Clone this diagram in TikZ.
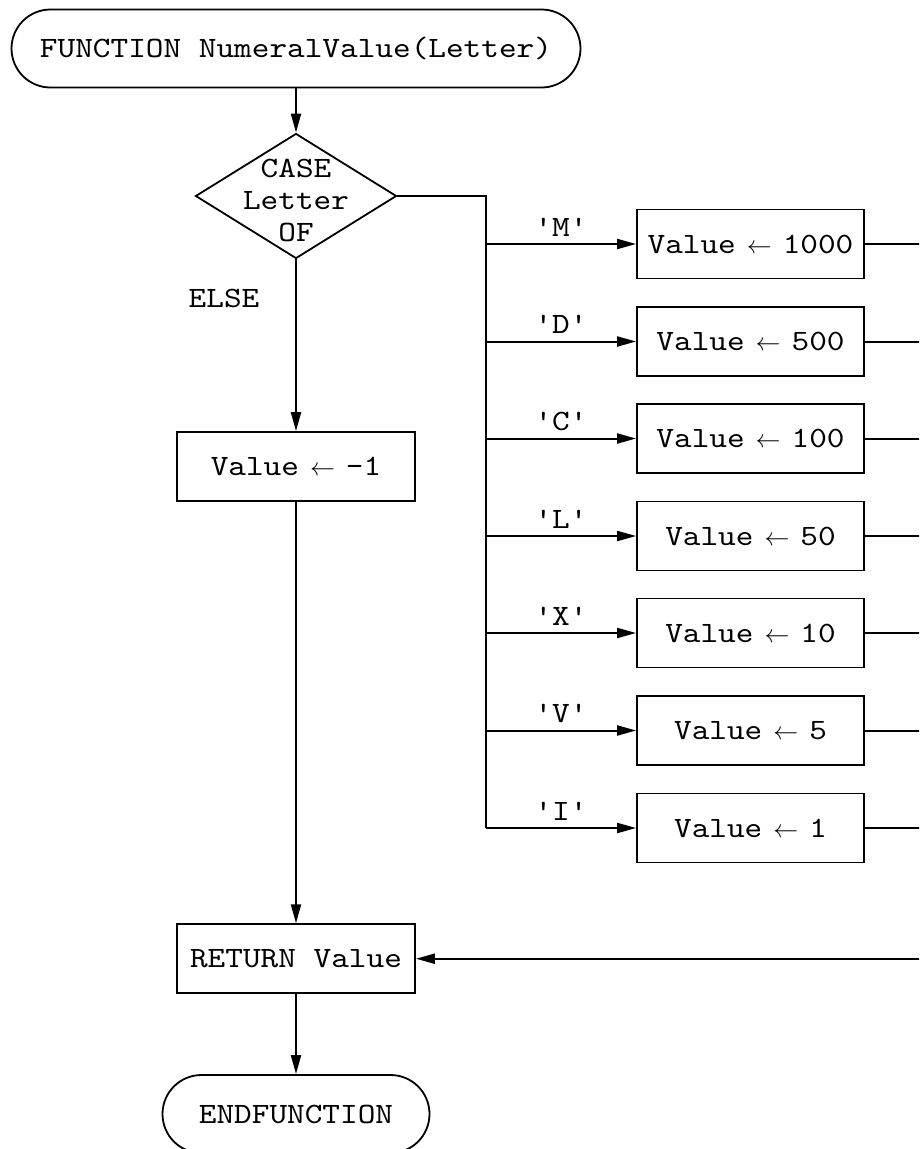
\documentclass[tikz,border=0pt]{standalone}
\usepackage{fontspec}
\setmonofont{lmmono10-regular.otf}[FakeStretch=1.14]
\usetikzlibrary{shapes.geometric,arrows.meta}
\newcommand{\asg}{\hspace{11pt}{\fontsize{26}{26}\selectfont$\leftarrow$}\hspace{11pt}}
\begin{document}
\begin{tikzpicture}[x=1pt,y=-1pt,
  every node/.style={font=\ttfamily\fontsize{29.5}{32}\selectfont},
  conn/.style={line width=2pt},
  arr/.style={conn,-{Triangle[length=19pt,width=10pt]}},
  box/.style={draw,line width=1.8pt,minimum height=69pt,inner sep=0pt},
  term/.style={draw,line width=1.8pt,rounded corners=39pt,minimum height=78pt,inner sep=0pt},
  lbl/.style={anchor=base,yshift=8pt,inner sep=0pt}
]
\useasboundingbox (0,0) rectangle (919,1149);
\clip (0,0) rectangle (919,1149);

\node[term,minimum width=569pt] (start) at (296,48.5) {FUNCTION NumeralValue(Letter)};
\node[draw,diamond,line width=1.8pt,minimum width=201pt,minimum height=125pt,inner sep=0pt] (dec) at (296,196) {};
\node[align=center,inner sep=0pt] (dectext) at (296,200) {CASE\\Letter\\OF};
\node (else) at (224,298) {ELSE};
\node[box,minimum width=238pt] (vneg) at (296,466.5) {Value\asg-1};
\node[box,minimum width=238pt] (ret) at (296,958.7) {RETURN Value};
\node[term,minimum width=267pt] (end) at (296,1114) {ENDFUNCTION};

\coordinate (busTop) at (486,196);
\foreach \l/\v/\y in {M/1000/244,D/500/341.5,C/100/438.5,L/50/536,X/10/633,V/5/730.5,I/1/828}{
  \node[box,minimum width=227pt] (b\l) at (750.5,\y) {Value\asg\v};
  \coordinate (bus\l) at (486,\y);
  \coordinate (r\l) at (945,\y);
  \draw[arr] (bus\l) -- node[lbl]{'\l'} (b\l.west);
  \draw[conn] (b\l.east) -- (r\l);
}
\draw[conn] (dec.east) -- (busTop) -- (busI);
\coordinate (rTop) at (945,244);
\coordinate (rBot) at (945,958.7);
\draw[conn] (rTop) -- (rBot);
\draw[arr] (rBot) -- (ret.east);

\draw[arr] (start.south) -- (dec.north);
\draw[arr] (dec.south) -- (vneg.north);
\draw[arr] (vneg.south) -- (ret.north);
\draw[arr] (ret.south) -- (end.north);
\end{tikzpicture}
\end{document}
